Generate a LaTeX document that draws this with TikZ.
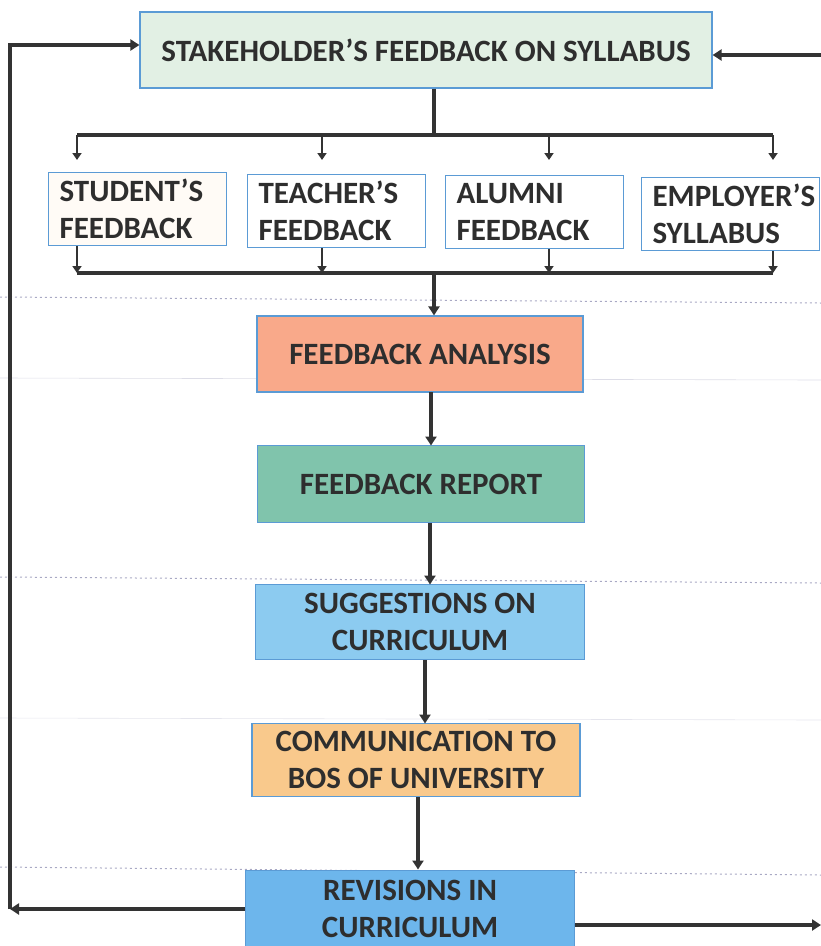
\documentclass[tikz,border=0pt]{standalone}
\usepackage{fontspec}
\setmainfont{Carlito}
\usetikzlibrary{arrows.meta}
\definecolor{bord}{HTML}{5B9BD5}
\definecolor{lnk}{HTML}{333333}
\definecolor{cTop}{HTML}{E2F0E4}
\definecolor{cAna}{HTML}{F9A98A}
\definecolor{cRep}{HTML}{80C4AC}
\definecolor{cSug}{HTML}{8CCBF0}
\definecolor{cCom}{HTML}{F9C98C}
\definecolor{cRev}{HTML}{6DB6EC}
\definecolor{cStu}{HTML}{FFFBF6}
\definecolor{grid}{HTML}{A9A9C4}
\tikzset{
  box/.style={draw=bord, line width=1.2pt, inner sep=0pt, font=\bfseries\fontsize{31}{37}\selectfont, text=black!82, align=center},
  sbox/.style={draw=bord, line width=1.2pt, inner xsep=11pt, inner ysep=0pt, font=\bfseries\fontsize{31}{37}\selectfont, text=black!82, align=left, text width=156pt, minimum width=178pt, minimum height=73pt, anchor=north west},
  conn/.style={draw=lnk, line width=3.2pt, -{Triangle[length=9pt,width=11pt]}},
  plain/.style={draw=lnk, line width=3.2pt},
  sconn/.style={draw=lnk, line width=2.8pt, -{Triangle[length=7pt,width=9pt]}},
  guide/.style={draw=grid, line width=1pt, dash pattern=on 2pt off 3pt}
}
\begin{document}
\begin{tikzpicture}[x=1pt,y=-1pt]
\useasboundingbox (0,0) rectangle (821,946);
% faint guide lines
\draw[guide] (0,297) -- (821,303);
\draw[guide] (0,577) -- (821,583);
\draw[guide] (0,867) -- (821,875);
\draw[draw=grid!40, line width=0.6pt] (0,378) -- (821,380);
\draw[draw=grid!30, line width=0.6pt] (0,718) -- (821,720);

% main boxes
\node[box, fill=cTop, minimum width=572pt, minimum height=76pt] (top) at (426,50) {STAKEHOLDER’S FEEDBACK ON SYLLABUS};
\node[sbox, fill=cStu] (stu) at (48,172) {STUDENT’S\\FEEDBACK};
\node[sbox, fill=white] (tea) at (247,174) {TEACHER’S\\FEEDBACK};
\node[sbox, fill=white] (alu) at (445,175) {ALUMNI\\FEEDBACK};
\node[sbox, fill=white] (emp) at (641,177) {EMPLOYER’S\\SYLLABUS};
\node[box, fill=cAna, minimum width=326pt, minimum height=76pt] (ana) at (420,354) {FEEDBACK ANALYSIS};
\node[box, fill=cRep, minimum width=327pt, minimum height=77pt] (rep) at (421,484) {FEEDBACK REPORT};
\node[box, fill=cSug, minimum width=329pt, minimum height=75pt] (sug) at (420,622) {SUGGESTIONS ON\\CURRICULUM};
\node[box, fill=cCom, minimum width=328pt, minimum height=73pt] (com) at (416,760) {COMMUNICATION TO\\BOS OF UNIVERSITY};
\node[box, fill=cRev, minimum width=329pt, minimum height=76pt, anchor=north] (rev) at (410,870) {REVISIONS IN\\CURRICULUM};

% coordinates
\coordinate (bus1) at (434,135);
\coordinate (b1L) at (77,135);
\coordinate (b1R) at (773,135);
\coordinate (bus2) at (434,273);
\coordinate (b2L) at (77,273);
\coordinate (b2R) at (773,273);
\coordinate (lc) at (10,909);
\coordinate (rc) at (821,925);
\coordinate (tr) at (821,55);

% top -> bus
\draw[plain] (top.south -| bus1) -- (bus1);
\draw[plain] (b1L) -- (b1R);
\draw[sconn] (b1L) -- (77,160);
\draw[sconn] (322,135) -- (322,160);
\draw[sconn] (549,135) -- (549,160);
\draw[sconn] (b1R) -- (773,160);
% small boxes -> bus2
\draw[sconn] (stu.south -| b2L) -- (b2L);
\draw[sconn] (tea.south -| 322,0) -- (322,273);
\draw[sconn] (alu.south -| 549,0) -- (549,273);
\draw[sconn] (emp.south -| b2R) -- (b2R);
\draw[plain] (b2L) -- (b2R);
\draw[conn] (bus2) -- (bus2 |- ana.north);
% vertical chain
\draw[conn] (431,392) -- (431,445.5);
\draw[conn] (430,523) -- (430,584.5);
\draw[conn] (425,660) -- (425,723.5);
\draw[conn] (418,797) -- (418,869.5);
% feedback loops
\draw[conn] (rev.west |- lc) -- (lc);
\draw[conn] (lc) -- (10,45) -- (top.west |- 0,45);
\draw[conn] (rev.east |- rc) -- (rc);
\draw[conn] (tr) -- (top.east |- tr);
\end{tikzpicture}
\end{document}
